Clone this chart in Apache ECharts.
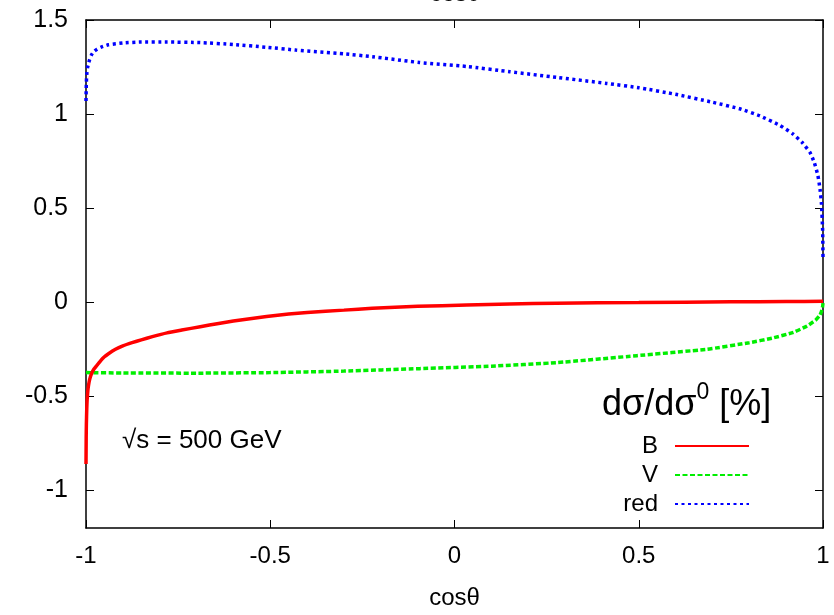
<!DOCTYPE html>
<html>
<head>
<meta charset="utf-8">
<script src="https://cdn.jsdelivr.net/npm/echarts@6/dist/echarts.min.js"></script>
<style>html,body{margin:0;padding:0;background:#fff}#c{width:834px;height:615px}</style>
</head>
<body>
<div id="c"></div>
<script>
// cosθ samples and values per series
const xRed = [-1, -0.9995, -0.999, -0.998, -0.997, -0.995, -0.993, -0.99, -0.985, -0.98, -0.97, -0.96, -0.95, -0.94, -0.92, -0.9, -0.875, -0.85, -0.82, -0.78, -0.74, -0.69, -0.64, -0.6, -0.55, -0.51, -0.45, -0.4, -0.3, -0.223, -0.1, 0.033, 0.15, 0.277, 0.5, 0.75, 0.9, 1];
const yRed = [-0.86, -0.72, -0.65, -0.57, -0.52, -0.47, -0.44, -0.41, -0.38, -0.36, -0.335, -0.31, -0.29, -0.275, -0.25, -0.232, -0.215, -0.2, -0.183, -0.163, -0.148, -0.13, -0.113, -0.1, -0.086, -0.076, -0.063, -0.054, -0.042, -0.032, -0.022, -0.015, -0.009, -0.005, -0.002, 0.002, 0.004, 0.005];

const xV = [-1, -0.9, -0.7, -0.5, -0.3, -0.095, 0.1, 0.277, 0.495, 0.685, 0.8, 0.864, 0.92, 0.957, 0.98, 0.992, 0.998, 1];
const yV = [-0.374, -0.376, -0.377, -0.374, -0.366, -0.353, -0.340, -0.321, -0.284, -0.25, -0.215, -0.19, -0.16, -0.126, -0.095, -0.068, -0.035, -0.005];

const xRedCorr = [-1, -0.9995, -0.999, -0.998, -0.996, -0.993, -0.99, -0.985, -0.98, -0.97, -0.96, -0.94, -0.9, -0.85, -0.78, -0.69, -0.6, -0.51, -0.43, -0.3, -0.223, -0.095, 0.033, 0.15, 0.277, 0.413, 0.5, 0.6, 0.7, 0.774, 0.829, 0.883, 0.918, 0.943, 0.965, 0.976, 0.986, 0.992, 0.996, 0.999, 1];
const yRedCorr = [1.07, 1.13, 1.17, 1.21, 1.245, 1.27, 1.29, 1.315, 1.33, 1.345, 1.355, 1.368, 1.378, 1.383, 1.383, 1.38, 1.37, 1.355, 1.34, 1.32, 1.305, 1.274, 1.253, 1.225, 1.195, 1.163, 1.14, 1.105, 1.063, 1.028, 0.99, 0.94, 0.895, 0.85, 0.795, 0.745, 0.675, 0.6, 0.52, 0.38, 0.24];

const xTicks = [-1, -0.5, 0, 0.5, 1];
const yTicks = [-1, -0.5, 0, 0.5, 1, 1.5];
const seriesNames = ['B', 'V', 'red'];

const pair = (xs, ys) => xs.map((x, i) => [x, ys[i]]);
const FONT = 'Liberation Sans, Arial, sans-serif';

const chart = echarts.init(document.getElementById('c'), null, {renderer: 'canvas'});
const axisLine = {show: true, onZero: false, lineStyle: {color: '#000', width: 1.5}};
const tick = vals => ({inside: true, length: 8, customValues: vals, lineStyle: {color: '#000', width: 1}});
chart.setOption({
  animation: false,
  backgroundColor: '#fff',
  grid: {left: 86, right: 11, top: 20, bottom: 84, containLabel: false},
  xAxis: [
    {type: 'value', min: -1, max: 1, position: 'bottom',
     axisLine, axisTick: tick(xTicks),
     axisLabel: {fontFamily: FONT, fontSize: 24, color: '#000', margin: 16, customValues: xTicks, formatter: v => String(v)},
     splitLine: {show: false},
     name: 'cosθ', nameLocation: 'middle', nameGap: 58,
     nameTextStyle: {fontFamily: FONT, fontSize: 24, color: '#000'}},
    {type: 'value', min: -1, max: 1, position: 'top',
     axisLine, axisTick: tick(xTicks),
     axisLabel: {show: false}, splitLine: {show: false}}
  ],
  yAxis: [
    {type: 'value', min: -1.2, max: 1.5, position: 'left',
     axisLine, axisTick: tick(yTicks),
     axisLabel: {fontFamily: FONT, fontSize: 25, color: '#000', margin: 18, customValues: yTicks, formatter: v => String(v)},
     splitLine: {show: false}},
    {type: 'value', min: -1.2, max: 1.5, position: 'right',
     axisLine, axisTick: tick(yTicks),
     axisLabel: {show: false}, splitLine: {show: false}}
  ],
  legend: {
    orient: 'vertical', align: 'right', left: 618, top: 434,
    itemWidth: 74, itemHeight: 14, itemGap: 5, padding: 0,
    data: seriesNames,
    itemStyle: {opacity: 0},
    textStyle: {fontFamily: FONT, fontSize: 24, color: '#000', width: 40, align: 'right', lineHeight: 23, padding: [0, 12, 0, 0]}
  },
  series: [
    {name: seriesNames[0], type: 'line', data: pair(xRed, yRed), smooth: 0.15, showSymbol: false, symbol: 'none',
     lineStyle: {color: '#ff0000', width: 3.5}, itemStyle: {color: '#ff0000'}, z: 3},
    {name: seriesNames[1], type: 'line', data: pair(xV, yV), smooth: 0.15, showSymbol: false, symbol: 'none',
     lineStyle: {color: '#00ee00', width: 3.5, type: [5, 2.5]}, itemStyle: {color: '#00ee00'}, z: 2},
    {name: seriesNames[2], type: 'line', data: pair(xRedCorr, yRedCorr), smooth: 0.15, showSymbol: false, symbol: 'none',
     lineStyle: {color: '#0000ff', width: 3.5, type: [3, 3.5]}, itemStyle: {color: '#0000ff'}, z: 2}
  ],
  graphic: [
    {type: 'text', x: 455, y: 6, z: 100, style: {text: 'cosθ', font: '24px ' + FONT, fill: '#000', align: 'center', verticalAlign: 'bottom'}},
    {type: 'text', left: 122, top: 428, style: {text: '√s = 500 GeV', font: '26px ' + FONT, fill: '#000'}},
    {type: 'text', left: 602, top: 381, style: {
      text: '{a|dσ/dσ}{s|0}{a| [%]}',
      rich: {a: {fontFamily: FONT, fontSize: 36, color: '#000', verticalAlign: 'bottom', lineHeight: 42},
             s: {fontFamily: FONT, fontSize: 23, color: '#000', verticalAlign: 'top', lineHeight: 42}}}}
  ]
});
</script>
</body>
</html>
